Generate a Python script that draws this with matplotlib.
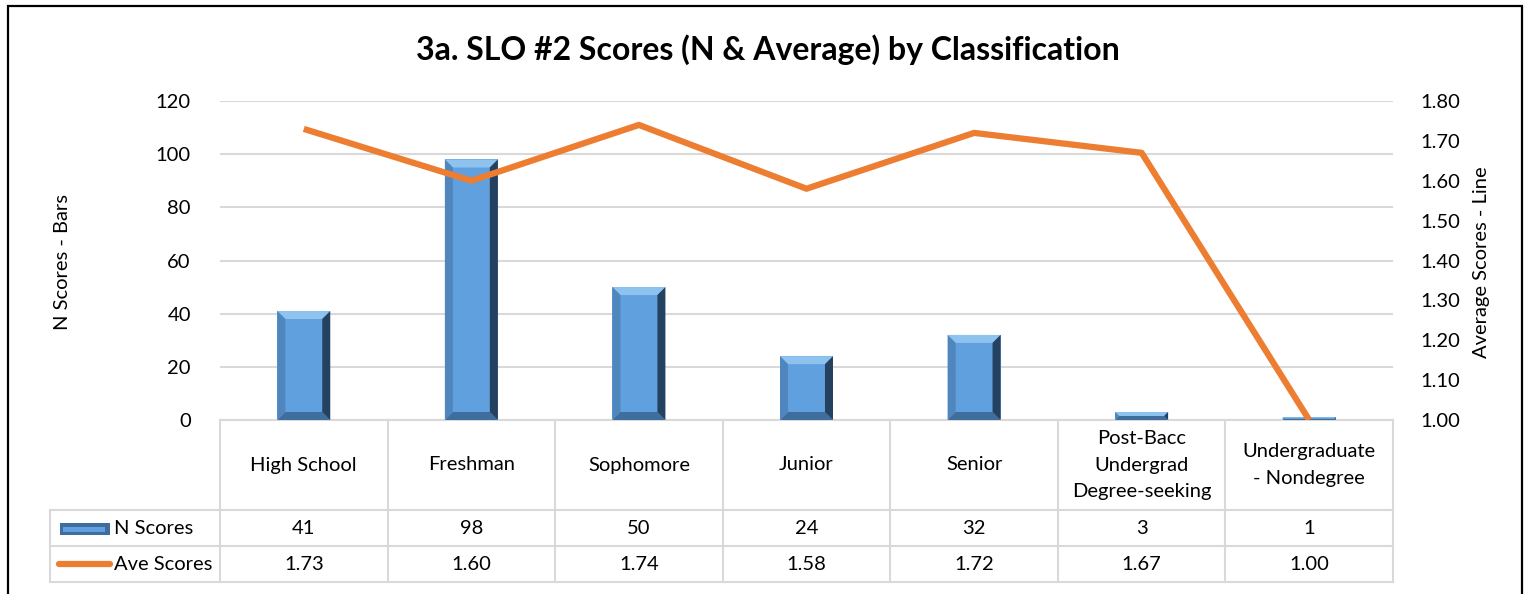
import matplotlib
matplotlib.use("Agg")
import matplotlib.pyplot as plt
from matplotlib.patches import Polygon, Rectangle
from matplotlib.lines import Line2D

plt.rcParams['font.family'] = ['Lato', 'DejaVu Sans']

# data
categories = ["High School", "Freshman", "Sophomore", "Junior", "Senior",
              "Post-Bacc\nUndergrad\nDegree-seeking", "Undergraduate\n- Nondegree"]
n_scores = [41, 98, 50, 24, 32, 3, 1]
ave_scores = [1.73, 1.60, 1.74, 1.58, 1.72, 1.67, 1.00]
n_labels = ["41", "98", "50", "24", "32", "3", "1"]
ave_labels = ["1.73", "1.60", "1.74", "1.58", "1.72", "1.67", "1.00"]

W, H = 1530, 594
fs = 14.5
fig = plt.figure(figsize=(W / 100, H / 100), dpi=100)
ax = fig.add_axes([220 / W, 1 - 420 / H, 1173 / W, 319 / H])
ax2 = ax.twinx()

x = list(range(len(categories)))
bar_w = 0.316
face = "#60A0DE"
grid_c = "#D9D9D9"

ax.set_xlim(-0.5, len(categories) - 0.5)
ax.set_ylim(0, 120)
ax.set_yticks(range(0, 121, 20))
ax.yaxis.grid(True, color=grid_c, lw=1.5)
ax.set_axisbelow(True)
ax.set_xticks([])
for s in ax.spines.values():
    s.set_visible(False)
for s in ax2.spines.values():
    s.set_visible(False)
ax.tick_params(axis="y", length=0, pad=21, labelsize=fs)

ax.bar(x, n_scores, width=bar_w, color=face, zorder=2)

# bevel effect on bars
bw_px = ax.get_position().width * W
bh_px = ax.get_position().height * H
dx = 8 * (len(categories)) / bw_px
dy_unit = 8 * 120 / bh_px
for xi, v in zip(x, n_scores):
    l, r = xi - bar_w / 2, xi + bar_w / 2
    dy = min(dy_unit, v / 2)
    ddx = dx if v / 2 >= dy_unit else dx * (dy / dy_unit)
    ax.add_patch(Polygon([(l, v), (r, v), (r - ddx, v - dy), (l + ddx, v - dy)],
                         color="#8EC3F0", lw=0, zorder=3))
    ax.add_patch(Polygon([(l, 0), (r, 0), (r - ddx, dy), (l + ddx, dy)],
                         color="#3F6E9E", lw=0, zorder=3))
    ax.add_patch(Polygon([(l, 0), (l + ddx, dy), (l + ddx, v - dy), (l, v)],
                         color="#4F86BD", lw=0, zorder=3))
    ax.add_patch(Polygon([(r, 0), (r - ddx, dy), (r - ddx, v - dy), (r, v)],
                         color="#24415F", lw=0, zorder=3))

ax2.plot(x, ave_scores, color="#ED7D31", lw=4.5, solid_capstyle="butt", zorder=4)
ax2.set_ylim(1.0, 1.8)
ax2.set_yticks([1.0 + 0.1 * i for i in range(9)])
ax2.set_yticklabels([f"{1.0 + 0.1 * i:.2f}" for i in range(9)])
ax2.tick_params(axis="y", length=0, pad=20, labelsize=fs)

# data table under the plot
tr = ax.transAxes
ncat = len(categories)
y_head, y_n, y_ave = -90 / 319, -126 / 319, -162 / 319
x_left = -170 / 1173

def hline(y0, x0, x1):
    ax.add_line(Line2D([x0, x1], [y0, y0], transform=tr, color=grid_c, lw=1.5, clip_on=False))

def vline(x0, y0, y1):
    ax.add_line(Line2D([x0, x0], [y0, y1], transform=tr, color=grid_c, lw=1.5, clip_on=False))

hline(0, 0, 1)
for yy in (y_head, y_n, y_ave):
    hline(yy, x_left, 1)
for i in range(ncat + 1):
    vline(i / ncat, 0, y_ave)
vline(x_left, y_head, y_ave)

for i in range(ncat):
    xc = (i + 0.5) / ncat
    ax.text(xc, y_head / 2, categories[i], transform=tr, ha="center", va="center",
            fontsize=fs, linespacing=1.7)
    ax.text(xc, (y_head + y_n) / 2, n_labels[i], transform=tr, ha="center", va="center", fontsize=fs)
    ax.text(xc, (y_n + y_ave) / 2, ave_labels[i], transform=tr, ha="center", va="center", fontsize=fs)

# legend keys in the table
tx = -106 / 1173
ax.text(tx, (y_head + y_n) / 2, "N Scores", transform=tr, ha="left", va="center", fontsize=fs)
ax.text(tx, (y_n + y_ave) / 2, "Ave Scores", transform=tr, ha="left", va="center", fontsize=fs)
ax.add_patch(Rectangle((-160 / 1173, -115 / 319), 50 / 1173, 12 / 319, transform=tr,
                       facecolor="#3F6E9E", edgecolor="none", clip_on=False))
ax.add_patch(Rectangle((-157 / 1173, -112 / 319), 42 / 1173, 5 / 319, transform=tr,
                       facecolor=face, edgecolor="none", clip_on=False))
ax.add_line(Line2D([-161 / 1173, -110 / 1173], [-144 / 319, -144 / 319], transform=tr,
                   color="#ED7D31", lw=4.5, solid_capstyle="round", clip_on=False))

fig.text(62 / W, 1 - 262 / H, "N Scores - Bars", rotation=90, ha="center", va="center", fontsize=fs)
fig.text(1481 / W, 1 - 262 / H, "Average Scores - Line", rotation=90, ha="center", va="center", fontsize=fs)
fig.text(768 / W, 1 - 50 / H, "3a. SLO #2 Scores (N & Average) by Classification",
         ha="center", va="center", fontsize=23, fontweight="bold")

fig.patches.append(Rectangle((8 / W, -0.05), 1514 / W, 1.05 - 6 / H, transform=fig.transFigure,
                             fill=False, edgecolor="black", lw=1.6))

fig.savefig("out.png", dpi=100, facecolor="white")
